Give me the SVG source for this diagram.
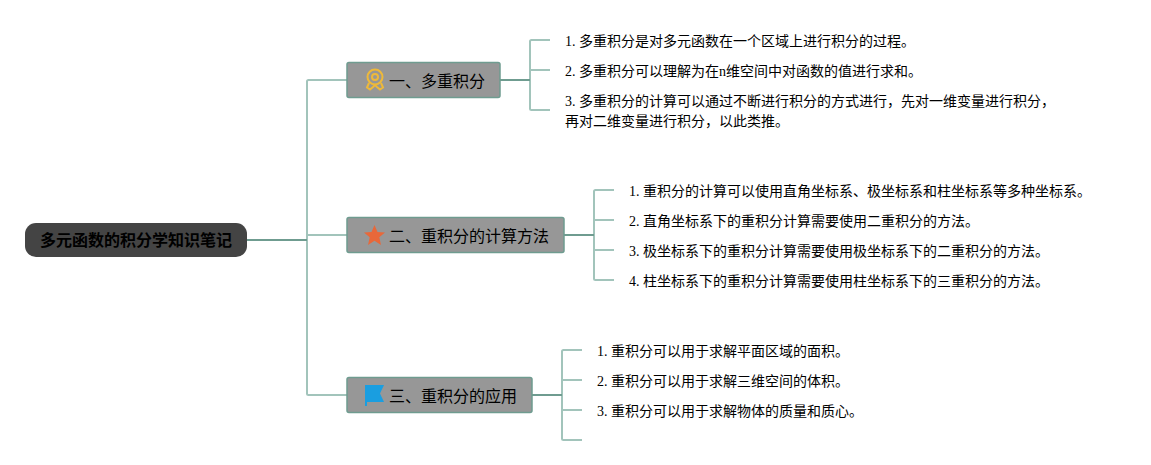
<svg xmlns="http://www.w3.org/2000/svg" width="1151" height="465" viewBox="0 0 1151 465">
<style>
.t{font-family:"Liberation Serif","Noto Sans CJK SC",serif;font-size:14px;fill:#000}
.b{font-family:"Liberation Serif","Noto Sans CJK SC",serif;font-size:16px;fill:#000}
.box{fill:#979797;stroke:#6f9c90;stroke-width:1.500}
.thin{fill:none;stroke:#a2c4bb;stroke-width:2}
.thick{fill:none;stroke:#6f9c90;stroke-width:2}
</style>
<rect width="1151" height="465" fill="#fff"/>
<g id="connectors">
<path class="thin" d="M347 80H308.500Q307 80 307 81.500V393.500Q307 395 308.500 395H347M307 235H347"/>
<path class="thin" d="M550 40H531.500Q530 40 530 41.500V108.500Q530 110 531.500 110H550M530 70H550"/>
<path class="thin" d="M614 190H595.500Q594 190 594 191.500V278.500Q594 280 595.500 280H614M594 220H614M594 250H614"/>
<path class="thin" d="M582 350H563.500Q562 350 562 351.500V438.500Q562 440 563.500 440H582M562 380H582M562 410H582"/>
<path class="thick" d="M247 240H307"/>
<path class="thick" d="M500 80H530"/>
<path class="thick" d="M564 235H594"/>
<path class="thick" d="M532 395H562"/>
</g>
<g id="root">
<rect x="25" y="223" width="222" height="34" rx="11" fill="#444"/>
<text x="136" y="246" text-anchor="middle" style="font-family:'Liberation Serif','Noto Sans CJK SC',serif;font-size:16px;font-weight:bold;fill:#000">多元函数的积分学知识笔记</text>
</g>
<g id="node1">
<rect class="box" x="347" y="62.500" width="153" height="35" rx="2"/>
<g fill="none" stroke="#eeb93a" stroke-width="2">
<circle cx="375" cy="77" r="7.500"/>
<circle cx="375" cy="77" r="3"/>
<path d="M369 83L367 87.500L370 89.500L373 87L375 85L377 87L380 89.500L383 87.500L381 83"/>
</g>
<text class="b" x="389" y="87">一、多重积分</text>
</g>
<g id="node2">
<rect class="box" x="347" y="217.500" width="217" height="35" rx="2"/>
<path d="M374.500 225L377.500 232L385 232.500L379.300 237.300L381 245L374.500 240.800L368 245L369.700 237.300L364 232.500L371.500 232Z" fill="#e8683a"/>
<text class="b" x="389" y="242">二、重积分的计算方法</text>
</g>
<g id="node3">
<rect class="box" x="347" y="377.500" width="185" height="35" rx="2"/>
<path d="M365 385H384L380 393.500L384 402H367V406H365Z" fill="#1a9ee0"/>
<text class="b" x="389" y="402">三、重积分的应用</text>
</g>
<g id="leaf1-1"><text class="t" x="565" y="46">1. 多重积分是对多元函数在一个区域上进行积分的过程。</text></g>
<g id="leaf1-2"><text class="t" x="565" y="76">2. 多重积分可以理解为在n维空间中对函数的值进行求和。</text></g>
<g id="leaf1-3"><text class="t" x="565" y="106">3. 多重积分的计算可以通过不断进行积分的方式进行，先对一维变量进行积分，</text><text class="t" x="565" y="126">再对二维变量进行积分，以此类推。</text></g>
<g id="leaf2-1"><text class="t" x="629" y="196">1. 重积分的计算可以使用直角坐标系、极坐标系和柱坐标系等多种坐标系。</text></g>
<g id="leaf2-2"><text class="t" x="629" y="226">2. 直角坐标系下的重积分计算需要使用二重积分的方法。</text></g>
<g id="leaf2-3"><text class="t" x="629" y="256">3. 极坐标系下的重积分计算需要使用极坐标系下的二重积分的方法。</text></g>
<g id="leaf2-4"><text class="t" x="629" y="286">4. 柱坐标系下的重积分计算需要使用柱坐标系下的三重积分的方法。</text></g>
<g id="leaf3-1"><text class="t" x="597" y="356">1. 重积分可以用于求解平面区域的面积。</text></g>
<g id="leaf3-2"><text class="t" x="597" y="386">2. 重积分可以用于求解三维空间的体积。</text></g>
<g id="leaf3-3"><text class="t" x="597" y="416">3. 重积分可以用于求解物体的质量和质心。</text></g>
</svg>
